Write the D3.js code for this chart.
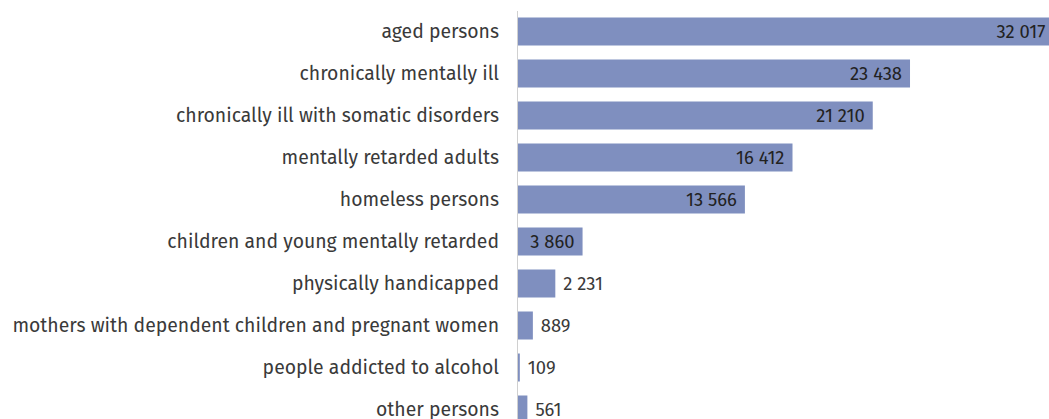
<!DOCTYPE html>
<html>
<head>
<meta charset="utf-8">
<script src="https://cdn.jsdelivr.net/npm/d3@7"></script>
<style>
  body { margin: 0; background: #fff; }
  svg { display: block; }
  text { font-family: "Fira Sans", "Open Sans", sans-serif; fill: #3a3a3a; }
</style>
</head>
<body>
<svg id="chart" width="1049" height="419"></svg>
<script>
// categories, top to bottom
var categories = [
  "aged persons",
  "chronically mentally ill",
  "chronically ill with somatic disorders",
  "mentally retarded adults",
  "homeless persons",
  "children and young mentally retarded",
  "physically handicapped",
  "mothers with dependent children and pregnant women",
  "people addicted to alcohol",
  "other persons"
];
var values = [32017, 23438, 21210, 16412, 13566, 3860, 2231, 889, 109, 561];

var svg = d3.select("#chart");
var W = 1049, H = 419;

var x = d3.scaleLinear()
  .domain([0, 32017])
  .range([518, 1053.5]);

var y = d3.scaleBand()
  .domain(categories)
  .range([10.5, 430.5])
  .paddingInner(1 / 3)
  .paddingOuter(1 / 6);

var fmt = function(v) { return d3.format(",")(v).replace(/,/g, " "); };

// axis line
svg.append("line")
  .attr("x1", 517.5).attr("x2", 517.5)
  .attr("y1", 11).attr("y2", H)
  .attr("stroke", "#d0d0d0")
  .attr("stroke-width", 1);

svg.selectAll("rect.bar")
  .data(values)
  .enter().append("rect")
  .attr("class", "bar")
  .attr("x", x(0))
  .attr("y", function(d, i) { return y(categories[i]); })
  .attr("width", function(d) { return x(d) - x(0); })
  .attr("height", y.bandwidth())
  .attr("fill", "#7f8fbf");

// category labels
var labels = svg.selectAll("text.cat")
  .data(categories)
  .enter().append("text")
  .attr("class", "cat")
  .attr("x", 499)
  .attr("y", function(d) { return y(d) + y.bandwidth() / 2; })
  .attr("dy", "0.35em")
  .attr("text-anchor", "end")
  .style("font-size", "15px")
  .text(function(d) { return d; });

// fit widest label to the reference width
var widest = d3.max(labels.nodes(), function(n) { return n.getComputedTextLength(); });
var fs = 15 * 487 / widest;
labels.style("font-size", fs + "px");

// value labels
svg.selectAll("text.val")
  .data(values)
  .enter().append("text")
  .attr("class", "val")
  .attr("y", function(d, i) { return y(categories[i]) + y.bandwidth() / 2; })
  .attr("dy", "0.35em")
  .style("font-size", (fs * 0.95) + "px")
  .each(function(d) {
    var t = d3.select(this).text(fmt(d));
    var w = this.getComputedTextLength();
    if (x(d) - x(0) > w + 16) {
      t.attr("x", x(d) - 8).attr("text-anchor", "end").style("fill", "#222");
    } else {
      t.attr("x", x(d) + 8).attr("text-anchor", "start");
    }
  });
</script>
</body>
</html>
